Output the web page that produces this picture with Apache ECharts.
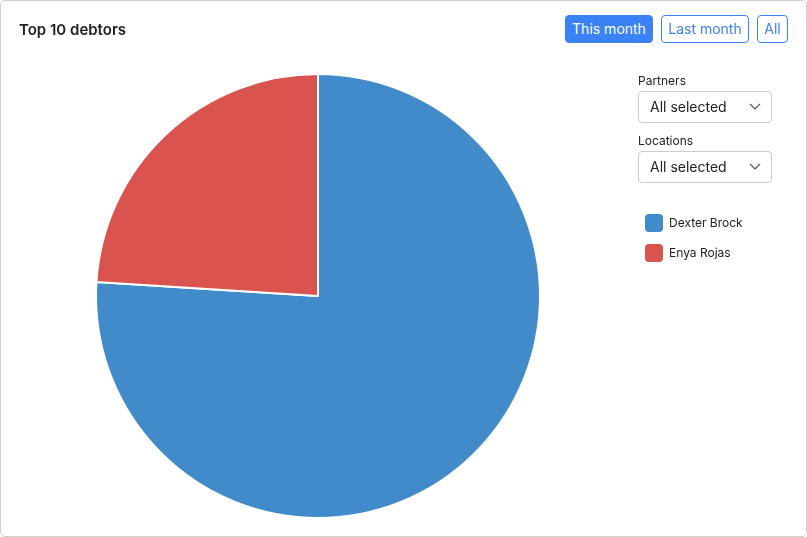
<!DOCTYPE html>
<html><head><meta charset="utf-8">
<script src="https://cdn.jsdelivr.net/npm/echarts@6/dist/echarts.min.js"></script>
<style>
body{margin:0;width:807px;height:537px;font-family:Inter,"Noto Sans",sans-serif;background:#fff;overflow:hidden}
#card{position:absolute;left:0;top:0;width:805px;height:535px;border:1px solid #d0d0d0;border-radius:5px}
#chart{position:absolute;left:0;top:0;width:807px;height:537px}
.ui{position:absolute;font-family:Inter,"Noto Sans",sans-serif}
.btn{position:absolute;top:15px;height:28px;box-sizing:border-box;border:1px solid #3b82f6;border-radius:4px;color:#3b82f6;font-size:14px;line-height:26px;text-align:center;background:#fff}
.lab{position:absolute;font-size:12px;color:#222}
.sel{position:absolute;left:638px;width:134px;height:32px;box-sizing:border-box;border:1px solid #ccc;border-radius:4px;font-size:14px;color:#222;line-height:30px;padding-left:11px}
.sel svg{position:absolute;right:10px;top:11px}
</style></head><body>
<div id="card"></div>
<div id="chart"></div>
<div class="ui" style="left:19px;top:20px;font-size:15px;font-weight:600;color:#222">Top 10 debtors</div>
<div class="btn" style="left:565px;width:88px;background:#3b82f6;color:#fff">This month</div>
<div class="btn" style="left:661px;width:88px">Last month</div>
<div class="btn" style="left:757px;width:31px">All</div>
<div class="lab" style="left:638px;top:73px">Partners</div>
<div class="sel" style="top:91px">All selected<svg width="12" height="8"><polyline points="1,1 6,6 11,1" fill="none" stroke="#555" stroke-width="1.2"/></svg></div>
<div class="lab" style="left:638px;top:133px">Locations</div>
<div class="sel" style="top:151px">All selected<svg width="12" height="8"><polyline points="1,1 6,6 11,1" fill="none" stroke="#555" stroke-width="1.2"/></svg></div>
<script>
const names=["Dexter Brock","Enya Rojas"];
const values=[76,24];
const colors=["#418bca","#d9534f"];
const chart=echarts.init(document.getElementById('chart'));
chart.setOption({
  animation:false,
  color:colors,
  legend:{orient:'vertical',left:638,top:207,itemWidth:20,itemHeight:20,itemGap:8,icon:'roundRect',
    textStyle:{fontSize:12,color:'#222',fontFamily:'Inter'},data:names},
  series:[{type:'pie',center:[318,296],radius:[0,222],startAngle:90,clockwise:true,label:{show:false},
    itemStyle:{borderColor:'#fff',borderWidth:2},
    data:names.map((n,i)=>({name:n,value:values[i]}))}]
});
</script></body></html>
